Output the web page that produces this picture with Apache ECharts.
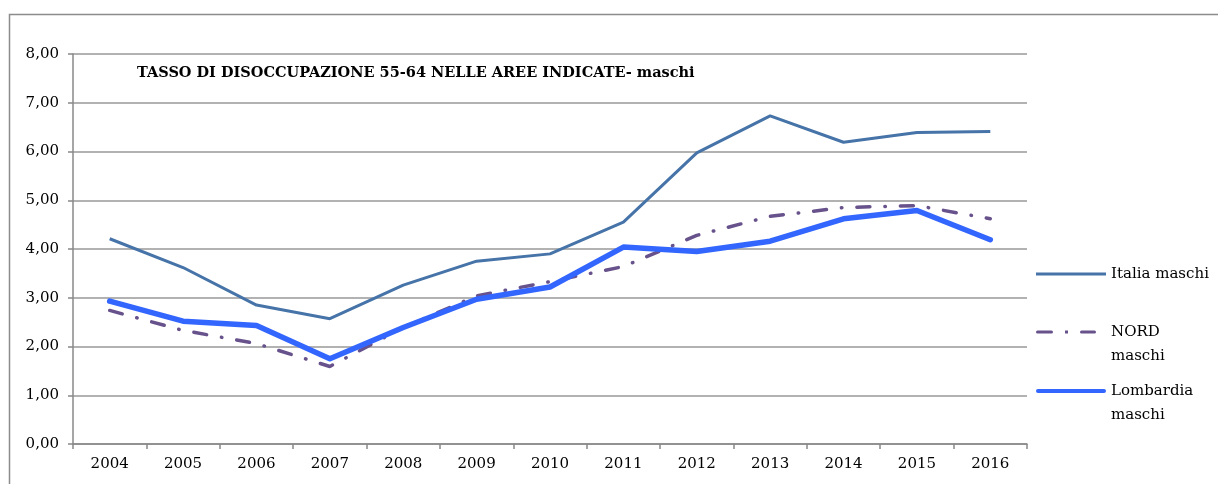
<!DOCTYPE html>
<html>
<head>
<meta charset="utf-8">
<script src="https://cdn.jsdelivr.net/npm/echarts@6/dist/echarts.min.js"></script>
<style>
  html, body { margin: 0; padding: 0; background: #ffffff; }
  #chart { width: 1218px; height: 484px; }
</style>
</head>
<body>
<div id="chart"></div>
<script>
var years = ['2004','2005','2006','2007','2008','2009','2010','2011','2012','2013','2014','2015','2016'];
var italiaMaschi = [4.21, 3.62, 2.85, 2.57, 3.26, 3.75, 3.90, 4.55, 5.97, 6.73, 6.19, 6.39, 6.41];
var nordMaschi = [2.74, 2.33, 2.06, 1.59, 2.39, 3.04, 3.33, 3.64, 4.28, 4.67, 4.85, 4.89, 4.62];
var lombardiaMaschi = [2.93, 2.52, 2.43, 1.75, 2.39, 2.97, 3.22, 4.04, 3.95, 4.16, 4.62, 4.79, 4.19];

var FONT = 'DejaVu Serif';

var chart = echarts.init(document.getElementById('chart'));

// legend text: leading empty line so the icon sits on the first real line
function legendText(name) {
	if (name === 'NORD maschi') return '\nNORD\nmaschi';
	if (name === 'Lombardia maschi') return '\nLombardia\nmaschi';
	return name;
}

var legendTxt = { fontFamily: FONT, fontSize: 15, color: '#000', lineHeight: 24 };

function legendOf(name, icon, h, top) {
	return {
		data: [{ name: name, icon: icon }],
		left: 1036, top: top, padding: 0, orient: 'vertical',
		itemWidth: 70, itemHeight: h,
		formatter: legendText, textStyle: legendTxt, selectedMode: false
	};
}

var option = {
	backgroundColor: '#ffffff',
	animation: false,
	graphic: [{
		type: 'rect',
		shape: { x: 9.5, y: 14.5, width: 1220, height: 480 },
		style: { fill: null, stroke: '#8c8c8c', lineWidth: 1.5 },
		silent: true
	}],
	title: {
		text: 'TASSO DI DISOCCUPAZIONE 55-64 NELLE AREE INDICATE- maschi',
		left: 137,
		top: 66,
		padding: 0,
		textStyle: { fontFamily: FONT, fontSize: 14.5, fontWeight: 'bold', color: '#000' }
	},
	legend: [
		legendOf('Italia maschi', 'path://M0,0H70V3H0Z', 3, 262),
		legendOf('NORD maschi', 'path://M1.5,0H15.5A1.5,1.5 0 0 1 15.5,3H1.5A1.5,1.5 0 0 1 1.5,0Z M29,0H32V3H29Z M45.5,0H58.5A1.5,1.5 0 0 1 58.5,3H45.5A1.5,1.5 0 0 1 45.5,0Z M70,0V3Z', 3.5, 296),
		legendOf('Lombardia maschi', 'path://M2,0H68A2,2 0 0 1 68,4H2A2,2 0 0 1 2,0Z', 5, 355)
	],
	grid: { left: 73, top: 54, right: 191, bottom: 40 },
	xAxis: {
		type: 'category',
		data: years,
		boundaryGap: true,
		axisLine: { lineStyle: { color: '#888', width: 1.5 } },
		axisTick: { show: true, length: 5, lineStyle: { color: '#888', width: 1.5 } },
		axisLabel: { fontFamily: FONT, fontSize: 15, color: '#000', margin: 13 }
	},
	yAxis: {
		type: 'value',
		min: 0,
		max: 8,
		interval: 1,
		axisLine: { show: true, lineStyle: { color: '#888', width: 1.5 } },
		axisTick: { show: true, length: 5, lineStyle: { color: '#888', width: 1.5 } },
		splitLine: { lineStyle: { color: '#999', width: 1.5 } },
		axisLabel: {
			fontFamily: FONT, fontSize: 15, color: '#000', margin: 14,
			formatter: function (v) { return v.toFixed(2).replace('.', ','); }
		}
	},
	series: [
		{
			name: 'Italia maschi', type: 'line', data: italiaMaschi, symbol: 'none',
			lineStyle: { color: '#4673a8', width: 3 }, itemStyle: { color: '#4673a8' }
		},
		{
			name: 'NORD maschi', type: 'line', data: nordMaschi, symbol: 'none',
			lineStyle: { color: '#67528c', width: 3.5, type: [13, 15, 0.5, 15], cap: 'round' },
			itemStyle: { color: '#67528c' }
		},
		{
			name: 'Lombardia maschi', type: 'line', data: lombardiaMaschi, symbol: 'none',
			lineStyle: { color: '#3366ff', width: 5.5, cap: 'round', join: 'round' },
			itemStyle: { color: '#3366ff' }
		}
	]
};

chart.setOption(option);
</script>
</body>
</html>
